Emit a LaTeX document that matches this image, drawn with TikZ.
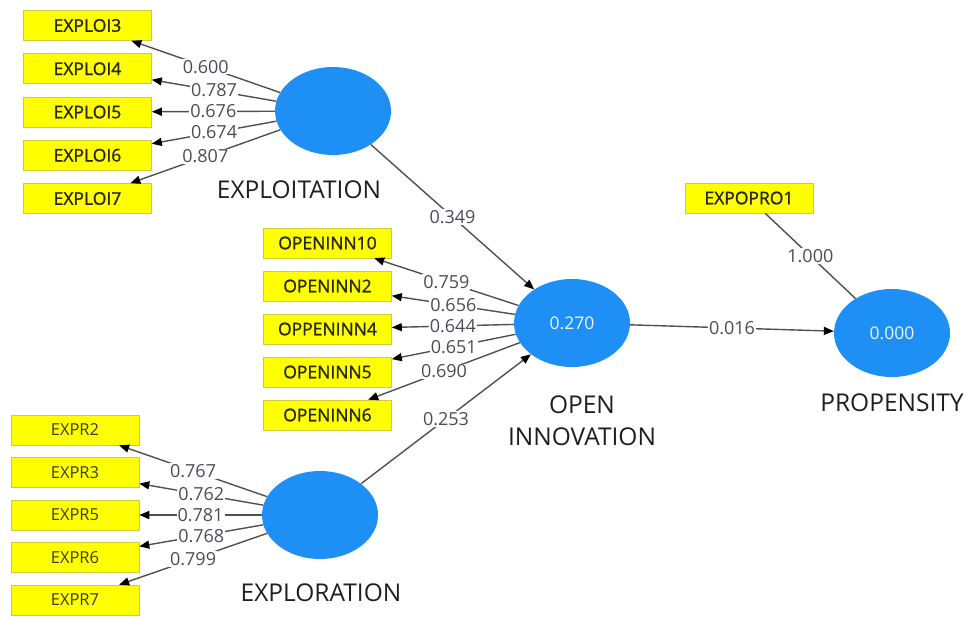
\documentclass[tikz,border=0pt]{standalone}
\usepackage{fontspec}
\setmainfont{Open Sans}
\newfontfamily\boxfont[FakeBold=1.2]{Open Sans}
\usetikzlibrary{arrows.meta,shapes.geometric}
\definecolor{boxyellow}{RGB}{255,255,0}
\definecolor{boxedge}{RGB}{205,205,60}
\definecolor{lvblue}{RGB}{30,143,245}
\definecolor{linegray}{RGB}{80,80,80}
\definecolor{numgray}{RGB}{78,74,92}
\definecolor{boxtext}{RGB}{40,40,15}
\definecolor{boxtextlight}{RGB}{60,60,30}
\begin{document}
\begin{tikzpicture}[x=1pt,y=-1pt,
 ind/.style={rectangle, fill=boxyellow, draw=boxedge, line width=0.6pt, minimum width=128pt, minimum height=30pt, inner sep=0pt, text=boxtext, font=\boxfont\fontsize{17.5}{18}\selectfont},
 indl/.style={ind, text=boxtextlight, font=\rmfamily\fontsize{16.5}{18}\selectfont},
 lv/.style={ellipse, fill=lvblue, minimum width=116pt, minimum height=88pt, inner sep=0pt, text=white!92!lvblue, font=\fontsize{17.5}{20}\selectfont},
 lvname/.style={text=black!88, font=\fontsize{24.5}{32}\selectfont, align=center},
 lab/.style={fill=white, inner sep=1pt, text=numgray, font=\fontsize{18}{20}\selectfont},
 ld/.style={draw=linegray, line width=1.4pt, -{Triangle[length=10pt,width=8pt,color=black]}},
 link/.style={draw=linegray, line width=1.4pt}
]
\useasboundingbox (0,0) rectangle (967,618);

% latent variables
\node[lv] (XT) at (333,111) {};
\node[lv] (OI) at (572,323) {0.270};
\node[lv] (XR) at (320,515) {};
\node[lv] (PR) at (892,333) {0.000};

\node[lvname] (XTn) at (299,190) {EXPLOITATION};
\node[lvname] (OIn) at (582,421) {OPEN\\INNOVATION};
\node[lvname] (XRn) at (321,593) {EXPLORATION};
\node[lvname] (PRn) at (892,403) {PROPENSITY};

% indicators
\node[ind] (E3) at (87.5,25.5) {EXPLOI3};
\node[ind] (E4) at (87.5,68.75) {EXPLOI4};
\node[ind] (E5) at (87.5,112) {EXPLOI5};
\node[ind] (E6) at (87.5,155.25) {EXPLOI6};
\node[ind] (E7) at (87.5,198.5) {EXPLOI7};

\node[ind] (O10) at (327.5,243) {OPENINN10};
\node[ind] (O2) at (327.5,286) {OPENINN2};
\node[ind] (O4) at (327.5,329) {OPPENINN4};
\node[ind] (O5) at (327.5,372) {OPENINN5};
\node[ind] (O6) at (327.5,415) {OPENINN6};

\node[indl] (R2) at (75,430) {EXPR2};
\node[indl] (R3) at (75,472.5) {EXPR3};
\node[indl] (R5) at (75,515) {EXPR5};
\node[indl] (R6) at (75,557.5) {EXPR6};
\node[indl] (R7) at (75,600) {EXPR7};

\node[ind] (P1) at (749,198) {EXPOPRO1};

% loadings
\draw[ld] (XT) -- node[lab] {0.600} (E3);
\draw[ld] (XT) -- node[lab] {0.787} (E4);
\draw[ld] (XT) -- node[lab] {0.676} (E5);
\draw[ld] (XT) -- node[lab] {0.674} (E6);
\draw[ld] (XT) -- node[lab] {0.807} (E7);

\draw[ld] (OI) -- node[lab] {0.759} (O10);
\draw[ld] (OI) -- node[lab] {0.656} (O2);
\draw[ld] (OI) -- node[lab] {0.644} (O4);
\draw[ld] (OI) -- node[lab] {0.651} (O5);
\draw[ld] (OI) -- node[lab] {0.690} (O6);

\draw[ld] (XR) -- node[lab] {0.767} (R2);
\draw[ld] (XR) -- node[lab] {0.762} (R3);
\draw[ld] (XR) -- node[lab] {0.781} (R5);
\draw[ld] (XR) -- node[lab] {0.768} (R6);
\draw[ld] (XR) -- node[lab] {0.799} (R7);

\draw[link] (P1) -- node[lab] {1.000} (PR);

% paths
\draw[ld] (XT) -- node[lab] {0.349} (OI);
\draw[ld] (XR) -- node[lab] {0.253} (OI);
\draw[ld] (OI) -- node[lab] {0.016} (PR);
\end{tikzpicture}
\end{document}
